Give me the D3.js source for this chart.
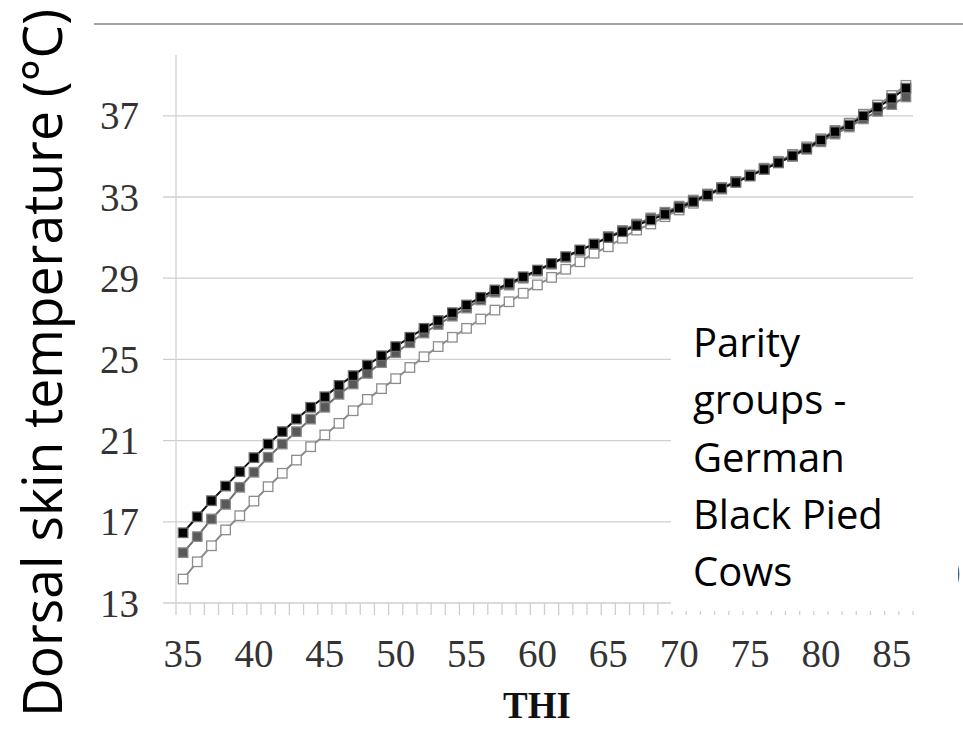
<!DOCTYPE html>
<html>
<head>
<meta charset="utf-8">
<script src="https://cdn.jsdelivr.net/npm/d3@7"></script>
<style>
  html, body { margin: 0; padding: 0; background: #fff; }
  svg { display: block; }
</style>
</head>
<body>
<svg id="chart" width="963" height="741"></svg>
<script>
// ---- data ----
const thi = d3.range(35, 87); // categories 35..86
const xLabels = [35, 40, 45, 50, 55, 60, 65, 70, 75, 80, 85];
const yTicks = [13, 17, 21, 25, 29, 33, 37];

const seriesBlack = [16.46,17.25,18.04,18.76,19.47,20.16,20.83,21.44,22.06,22.64,
  23.16,23.72,24.20,24.71,25.18,25.63,26.09,26.53,26.91,27.30,
  27.68,28.06,28.42,28.75,29.07,29.40,29.73,30.06,30.39,30.68,
  31.01,31.29,31.60,31.87,32.15,32.47,32.77,33.10,33.43,33.72,
  34.03,34.36,34.69,35.03,35.40,35.81,36.22,36.55,36.99,37.42,
  37.86,38.36];
const seriesGray = [15.48,16.27,17.14,17.86,18.70,19.44,20.18,20.83,21.44,22.06,
  22.64,23.28,23.79,24.31,24.84,25.33,25.82,26.30,26.72,27.13,
  27.53,27.93,28.31,28.66,29.00,29.35,29.69,30.03,30.37,30.68,
  31.05,31.35,31.67,31.97,32.25,32.55,32.85,33.15,33.47,33.77,
  34.07,34.37,34.68,35.00,35.35,35.72,36.10,36.45,36.85,37.22,
  37.55,37.93];
const seriesOpen = [14.18,15.03,15.82,16.60,17.30,18.02,18.73,19.39,20.04,20.70,
  21.28,21.85,22.47,23.03,23.56,24.05,24.60,25.13,25.63,26.09,
  26.53,26.99,27.43,27.84,28.26,28.67,29.04,29.44,29.81,30.23,
  30.55,30.97,31.37,31.67,32.03,32.36,32.69,33.05,33.39,33.75,
  34.08,34.42,34.76,35.10,35.47,35.87,36.28,36.64,37.08,37.53,
  38.00,38.50];

const legendLines = ["Parity", "groups -", "German", "Black Pied", "Cows"];
const yTitle = "Dorsal skin temperature (°C)";
const xTitle = "THI";

// ---- layout ----
const svg = d3.select("#chart");
const left = 176, right = 913, bottom = 603;
const x = d3.scaleBand().domain(thi).range([left, right]).paddingInner(0).paddingOuter(0);
const y = d3.scaleLinear().domain([13, 40]).range([bottom, bottom - 27 * 20.3]);
const cx = d => x(d) + x.bandwidth() / 2;

// top frame line
svg.append("line").attr("x1", 94).attr("x2", 963).attr("y1", 24).attr("y2", 24)
  .attr("stroke", "#858585").attr("stroke-width", 1.6);

// gridlines
svg.append("g").selectAll("line").data(yTicks).join("line")
  .attr("x1", left - 13).attr("x2", right)
  .attr("y1", d => y(d)).attr("y2", d => y(d))
  .attr("stroke", "#cfcfcf").attr("stroke-width", 1.3);

// y axis line
svg.append("line").attr("x1", left).attr("x2", left).attr("y1", y(40)).attr("y2", bottom)
  .attr("stroke", "#cfcfcf").attr("stroke-width", 1.3);

// x ticks at category boundaries
const bounds = thi.map(t => x(t)).concat([right]);
svg.append("g").selectAll("line").data(bounds).join("line")
  .attr("x1", d => d).attr("x2", d => d).attr("y1", bottom).attr("y2", bottom + 12)
  .attr("stroke", "#cfcfcf").attr("stroke-width", 1.3);

// y tick labels
svg.append("g").selectAll("text").data(yTicks).join("text")
  .attr("x", 139).attr("y", d => y(d) + 13.5)
  .attr("text-anchor", "end")
  .attr("font-family", "'Liberation Serif', 'Times New Roman', serif")
  .attr("font-size", 39).attr("fill", "#333")
  .text(d => d);

// x tick labels
svg.append("g").selectAll("text").data(xLabels).join("text")
  .attr("x", d => cx(d)).attr("y", 667)
  .attr("text-anchor", "middle")
  .attr("font-family", "'Liberation Serif', 'Times New Roman', serif")
  .attr("font-size", 39).attr("fill", "#333")
  .text(d => d);

// x title
svg.append("text").attr("x", 537).attr("y", 718).attr("text-anchor", "middle")
  .attr("font-family", "'Liberation Serif', 'Times New Roman', serif")
  .attr("font-weight", "bold").attr("font-size", 37).attr("fill", "#111")
  .text(xTitle);

// y title
svg.append("text")
  .attr("transform", "translate(62,363) rotate(-90)")
  .attr("text-anchor", "middle")
  .attr("font-family", "'Open Sans', sans-serif")
  .attr("font-size", 54).attr("fill", "#000")
  .attr("textLength", 708).attr("lengthAdjust", "spacingAndGlyphs")
  .text(yTitle);

// series
const series = [
  { vals: seriesOpen, line: "#8c8c8c", fill: "#ffffff", stroke: "#8c8c8c" },
  { vals: seriesGray, line: "#6e6e6e", fill: "#595959", stroke: "#8a8a8a" },
  { vals: seriesBlack, line: "#111111", fill: "#000000", stroke: "#6a6a6a" }
];
const lineGen = d3.line().x((d, i) => cx(thi[i])).y(d => y(d));
const ms = 9.5;
series.forEach(s => {
  const g = svg.append("g");
  g.append("path").attr("d", lineGen(s.vals)).attr("fill", "none")
    .attr("stroke", s.line).attr("stroke-width", 2);
  g.selectAll("rect").data(s.vals).join("rect")
    .attr("x", (d, i) => cx(thi[i]) - ms / 2).attr("y", d => y(d) - ms / 2)
    .attr("width", ms).attr("height", ms)
    .attr("fill", s.fill).attr("stroke", s.stroke).attr("stroke-width", 1.3);
});

// partial glyph at right edge
svg.append("text").attr("x", 950).attr("y", 584)
  .attr("font-family", "'Open Sans', sans-serif").attr("font-size", 36)
  .attr("fill", "#555").text(")");

// white text box (legend) covering part of the chart
svg.append("rect").attr("x", 671).attr("y", 318).attr("width", 287).attr("height", 293)
  .attr("fill", "#fff");

svg.append("g").selectAll("text").data(legendLines).join("text")
  .attr("x", 693).attr("y", (d, i) => 357 + i * 57.3)
  .attr("font-family", "'Open Sans', sans-serif")
  .attr("font-size", 40).attr("fill", "#000")
  .text(d => d);
</script>
</body>
</html>
